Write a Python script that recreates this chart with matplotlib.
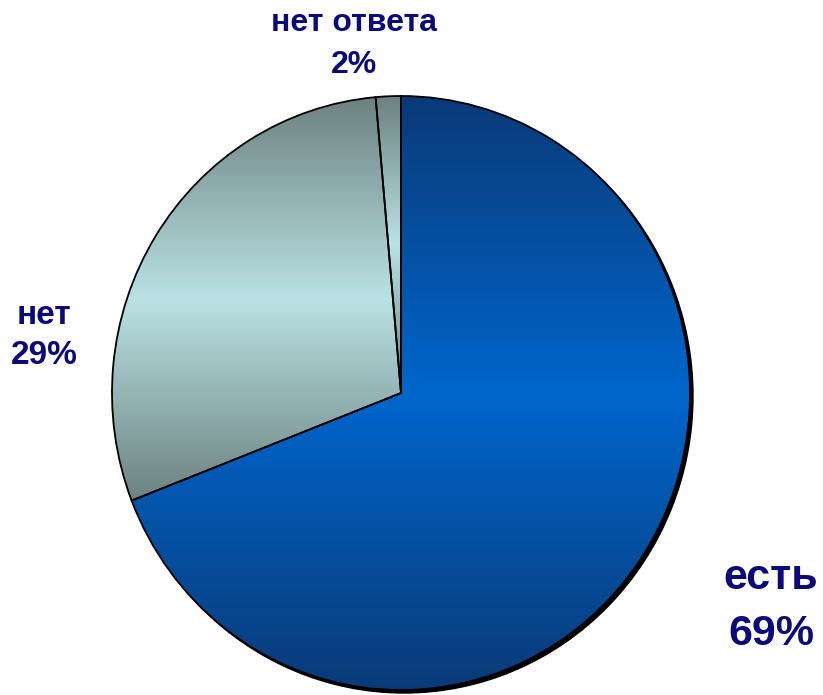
#pie chart: answer shares with vertical gradient fills

import matplotlib.pyplot as plt
import numpy as np
from matplotlib.colors import LinearSegmentedColormap
from matplotlib.patches import Ellipse

labels = ['есть', 'нет', 'нет ответа']
#slice sizes as drawn in the picture (labels are rounded)
shares = [69.1, 29.5, 1.4]
pct_labels = ['69%', '29%', '2%']

#colours for each slice: edge (top/bottom) and middle of the gradient
edge_colors = ['#0a3a78', '#6c8280', '#6c8280']
mid_colors = ['#0066cc', '#bae2e4', '#bae2e4']

text_color = '#0a0a7a'
plt.rcParams['font.family'] = ['Liberation Sans', 'DejaVu Sans']

fig = plt.figure(figsize=(8.23, 6.95), dpi=100)
ax = fig.add_axes([0, 0, 1, 1])

#pixel scale: 289 px per unit across, 297 px per unit up and down
sx, sy = 289.0, 297.0
cx_px, cy_px = 401.0, 393.0

#shadow behind the pie
ax.add_patch(Ellipse((3 / sx, -3 / sy), 2, 2, color='black', zorder=0))

wedges, _ = ax.pie(shares, startangle=90, counterclock=False, radius=1,
                   wedgeprops=dict(edgecolor='black', linewidth=1.3))

for w, c0, c1 in zip(wedges, edge_colors, mid_colors):
	w.set_facecolor('none')
	w.set_zorder(3)
	bb = w.get_path().get_extents()
	cmap = LinearSegmentedColormap.from_list('g', [c0, c1, c0])
	grad = np.linspace(0, 1, 256).reshape(-1, 1)
	im = ax.imshow(grad, cmap=cmap, aspect='auto', zorder=2,
				   extent=(bb.x0, bb.x1, bb.y0, bb.y1), origin='lower')
	im.set_clip_path(w)

ax.set_aspect('auto')
ax.set_xlim(-cx_px / sx, (823 - cx_px) / sx)
ax.set_ylim(-(695 - cy_px) / sy, cy_px / sy)
ax.axis('off')

def px(x, y):
	return ((x - cx_px) / sx, (cy_px - y) / sy)

#label positions in pixels of the original chart
label_pos = [(771, 578, 634, 31), (44, 315, 356, 24), (354, 23, 65, 23)]
for name, pct, (x, y1, y2, fs) in zip(labels, pct_labels, label_pos):
	ax.text(*px(x, y1), name, ha='center', va='center', fontsize=fs,
			fontweight='bold', color=text_color)
	ax.text(*px(x, y2), pct, ha='center', va='center', fontsize=fs,
			fontweight='bold', color=text_color)

plt.savefig('out.png', dpi=100)
